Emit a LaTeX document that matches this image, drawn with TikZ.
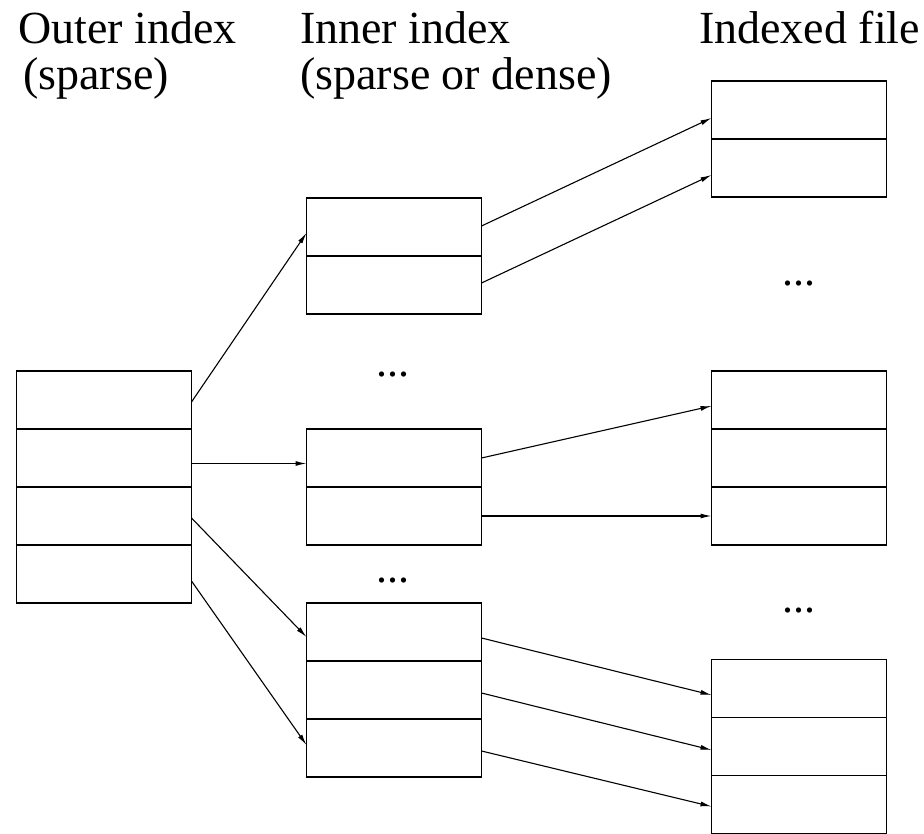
\documentclass[tikz,border=0pt]{standalone}
\usepackage{fontspec}
\setmainfont{Liberation Serif}
\usetikzlibrary{arrows.meta}

\tikzset{
  cell/.style={draw, line width=1.7pt, rectangle, minimum width=175pt, minimum height=58pt, inner sep=0pt, outer sep=0pt},
  ptr/.style={line width=1.1pt, -{Latex[length=11pt,width=5pt]}},
  heading/.style={font=\fontsize{46}{50}\selectfont, inner sep=0pt, anchor=base west},
  gap/.style={font=\fontsize{44}{48}\selectfont, inner sep=0pt, anchor=base}
}

\begin{document}
\begin{tikzpicture}[x=1pt, y=-1pt]
  \useasboundingbox (0,0) rectangle (924,834);

  % column headings
  \node[heading] (h1) at (18,44) {Outer index};
  \node[heading] (h2) at (23,90) {(sparse)};
  \node[heading] (h3) at (300,44) {Inner index};
  \node[heading] (h4) at (300,90) {(sparse or dense)};
  \node[heading] (h5) at (699,44) {Indexed file};

  % outer index
  \node[cell] (o1) at (104,400) {};
  \node[cell] (o2) at (104,458) {};
  \node[cell] (o3) at (104,516) {};
  \node[cell] (o4) at (104,574) {};

  % inner index blocks
  \node[cell] (a1) at (394,227) {};
  \node[cell] (a2) at (394,285) {};
  \node[cell] (b1) at (394,458) {};
  \node[cell] (b2) at (394,516) {};
  \node[cell] (c1) at (394,632) {};
  \node[cell] (c2) at (394,690) {};
  \node[cell] (c3) at (394,748) {};

  % indexed file blocks
  \node[cell] (f1) at (799,110) {};
  \node[cell] (f2) at (799,168) {};
  \node[cell] (g1) at (799,400) {};
  \node[cell] (g2) at (799,458) {};
  \node[cell] (g3) at (799,516) {};
  \node[cell] (k1) at (799,688.5) {};
  \node[cell] (k2) at (799,746.5) {};
  \node[cell] (k3) at (799,804.5) {};

  % omitted entries
  \node[gap] (d1) at (393,377) {...};
  \node[gap] (d2) at (393,582) {...};
  \node[gap] (d3) at (799,286) {...};
  \node[gap] (d4) at (799,612) {...};

  % outer -> inner
  \draw[ptr] ([yshift=-2pt]o1.east) -- ([yshift=-6pt]a1.west);
  \draw[ptr] ([yshift=-5.5pt]o2.east) -- ([yshift=-5.5pt]b1.west);
  \draw[ptr] ([yshift=-2pt]o3.east) -- ([yshift=-5pt]c1.west);
  \draw[ptr] ([yshift=-7pt]o4.east) -- ([yshift=3pt]c3.west);

  % inner -> file
  \draw[ptr] ([yshift=1pt]a1.east) -- ([yshift=-8pt]f1.west);
  \draw[ptr] ([yshift=2pt]a2.east) -- ([yshift=-7pt]f2.west);
  \draw[ptr] ([yshift=0pt]b1.east) -- ([yshift=-6pt]g1.west);
  \draw[ptr] (b2.east) -- (g3.west);
  \draw[ptr] ([yshift=-6pt]c1.east) -- ([yshift=-6.5pt]k1.west);
  \draw[ptr] ([yshift=-3pt]c2.east) -- ([yshift=-3.5pt]k2.west);
  \draw[ptr] ([yshift=-3pt]c3.east) -- ([yshift=-2pt]k3.west);
\end{tikzpicture}
\end{document}
